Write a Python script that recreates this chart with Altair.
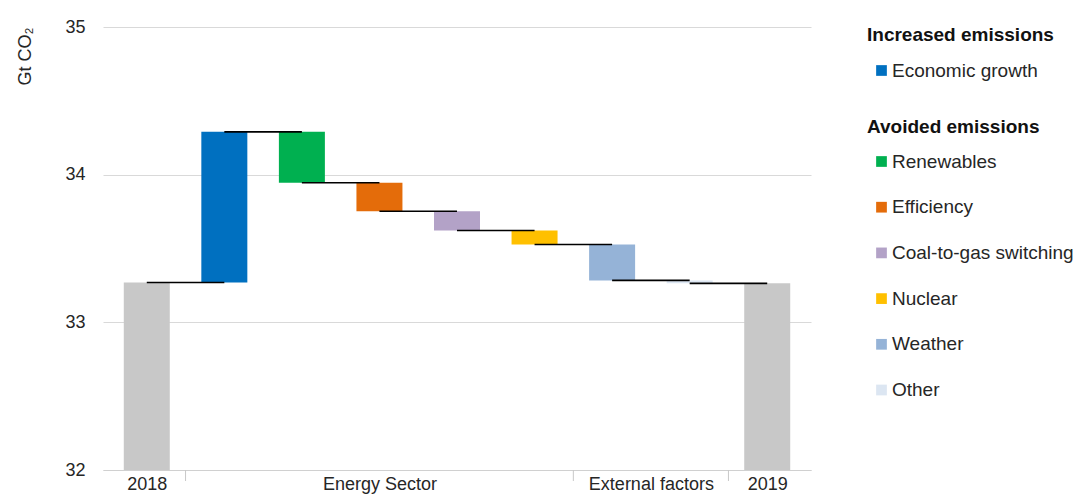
import altair as alt
import pandas as pd

# ---- data ----
categories = ["2018", "Economic growth", "Renewables", "Efficiency",
              "Coal-to-gas switching", "Nuclear", "Weather", "Other", "2019"]
groups = ["2018", "Energy Sector", "Energy Sector", "Energy Sector",
          "Energy Sector", "Energy Sector", "External factors",
          "External factors", "2019"]
start_value = 33.27
changes = [1.02, -0.345, -0.193, -0.13, -0.095, -0.243, -0.02]  # categories[1:8]
increase_items = ["Economic growth"]
avoided_items = ["Renewables", "Efficiency", "Coal-to-gas switching",
                 "Nuclear", "Weather", "Other"]
increase_colors = ["#0070C0"]
avoided_colors = ["#00B050", "#E46C0A", "#B3A2C7", "#FFC000", "#95B3D7", "#DCE6F2"]
total_color = "#C8C8C8"
y_ticks = [32, 33, 34, 35]
y_min, y_max = 32, 35

# ---- derived tables ----
levels = [start_value]
for c in changes:
    levels.append(round(levels[-1] + c, 4))
end_value = levels[-1]

totals = pd.DataFrame({"idx": [0, len(categories) - 1],
                       "name": [categories[0], categories[-1]],
                       "value": [start_value, end_value]})

steps = pd.DataFrame({
    "idx": list(range(1, len(categories) - 1)),
    "name": categories[1:-1],
    "lo": levels[:-1],
    "hi": levels[1:],
})
steps_inc = steps[steps["name"].isin(increase_items)]
steps_avo = steps[steps["name"].isin(avoided_items)]

connectors = pd.DataFrame({
    "x": list(range(0, len(categories) - 1)),
    "x2": list(range(1, len(categories))),
    "y": levels,
})

# group centres and boundaries
group_names, group_centers, boundaries = [], [], []
i = 0
while i < len(groups):
    j = i
    while j + 1 < len(groups) and groups[j + 1] == groups[i]:
        j += 1
    group_names.append(groups[i])
    group_centers.append((i + j) / 2)
    if i > 0:
        boundaries.append(i - 0.5)
    i = j + 1
bounds = pd.DataFrame({"b": boundaries})

label_expr = "''"
for n, c in reversed(list(zip(group_names, group_centers))):
    label_expr = f"datum.value == {c} ? '{n}' : ({label_expr})"

FONT = "Liberation Sans"
TXT = "#262626"
W, H = 708, 443
FS = 18
LFS = 19

xscale = alt.Scale(domain=[-0.5, len(categories) - 0.5], nice=False, zero=False)
yscale = alt.Scale(domain=[y_min, y_max], nice=False, zero=False)

xaxis = alt.Axis(values=group_centers, labelExpr=label_expr, ticks=False,
                 grid=False, domain=True, domainColor="#D0D0D0", domainWidth=1,
                 labelFontSize=FS, labelColor=TXT, labelPadding=5,
                 labelAngle=0, labelOverlap=False, labelFlush=False, title=None)
yaxis = alt.Axis(values=y_ticks, grid=True, gridColor="#D9D9D9", domain=False,
                 ticks=False, labelFontSize=FS, labelColor=TXT, labelPadding=18,
                 title="Gt CO₂", titleAngle=270, titleX=-78, titleY=0,
                 titleAlign="right", titleBaseline="middle",
                 titleFontWeight="normal", titleFontSize=18, titleColor=TXT)

X = lambda f: alt.X(f, scale=xscale, axis=xaxis)
Y = lambda f: alt.Y(f, scale=yscale, axis=yaxis)

totals_layer = alt.Chart(totals).mark_bar(width=46, color=total_color).encode(
    x=X("idx:Q"),
    y=Y("value:Q"),
    y2=alt.datum(y_min),
)

legend_common = dict(orient="none", padding=0, symbolType="square",
                     symbolSize=115, symbolStrokeWidth=0, symbolOffset=5,
                     labelFontSize=LFS, labelColor=TXT, labelOffset=1,
                     titleFontSize=LFS, titleFontWeight="bold", titleColor="#111",
                     labelLimit=400, titleLimit=400)

inc_layer = alt.Chart(steps_inc).mark_bar(width=46).encode(
    x=X("idx:Q"),
    y=Y("hi:Q"),
    y2="lo:Q",
    color=alt.Color("name:N",
                    scale=alt.Scale(domain=increase_items, range=increase_colors),
                    legend=alt.Legend(title="Increased emissions",
                                      legendX=764, legendY=-1, titlePadding=16,
                                      rowPadding=25.7, **legend_common)),
)

avo_layer = alt.Chart(steps_avo).mark_bar(width=46).encode(
    x=X("idx:Q"),
    y=Y("hi:Q"),
    y2="lo:Q",
    fill=alt.Fill("name:N",
                  scale=alt.Scale(domain=avoided_items, range=avoided_colors),
                  legend=alt.Legend(title="Avoided emissions",
                                    legendX=764, legendY=91, titlePadding=15,
                                    rowPadding=25.7, **legend_common)),
)

conn_layer = alt.Chart(connectors).mark_rule(color="black", strokeWidth=1.6).encode(
    x=X("x:Q"),
    x2="x2:Q",
    y=Y("y:Q"),
)

bound_layer = alt.Chart(bounds).mark_rule(color="#C8C8C8", strokeWidth=1).encode(
    x=X("b:Q"),
    y=alt.value(H),
    y2=alt.value(H + 11),
)

chart = alt.layer(totals_layer, inc_layer, avo_layer, conn_layer, bound_layer).resolve_scale(
    color="independent", fill="independent"
).properties(
    width=W, height=H,
    autosize=alt.AutoSizeParams(type="none"),
    padding={"left": 103, "top": 27, "right": 268, "bottom": 26},
).configure(font=FONT).configure_view(stroke=None)

chart.save("out.html", embed_options={"renderer": "svg", "actions": False})
